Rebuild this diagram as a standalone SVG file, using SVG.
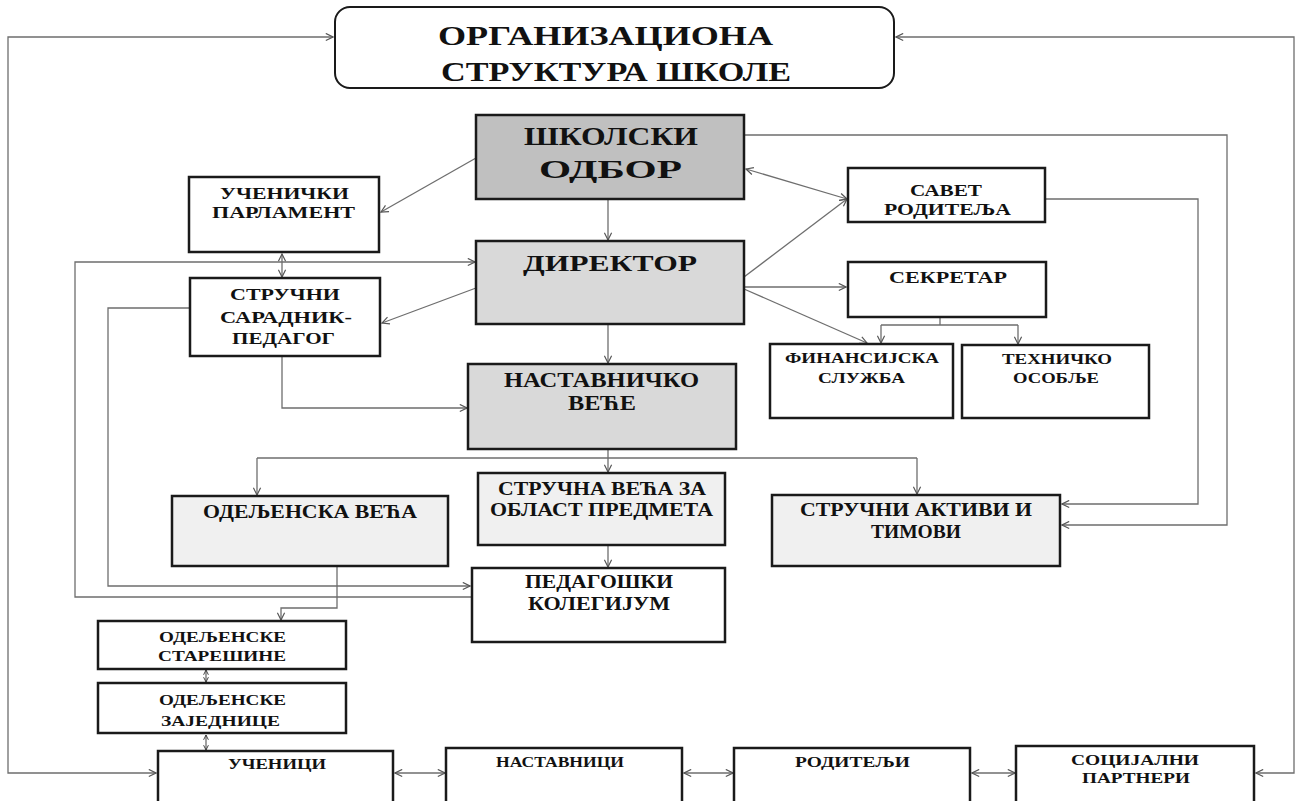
<svg xmlns="http://www.w3.org/2000/svg" width="1297" height="801" viewBox="0 0 1297 801">
<style>
.b{stroke:#1a1a1a;stroke-width:2.5;fill:#fff}
.d{fill:#c0c0c0}.m{fill:#d9d9d9}.l{fill:#f0f0f0}
.t{font-family:"Liberation Serif","Times New Roman",serif;font-weight:bold;fill:#111}
.c{fill:none;stroke:#6e6e6e;stroke-width:1.3}
.a{marker-end:url(#ar)}
.aa{marker-end:url(#ar);marker-start:url(#ar)}
.s{marker-end:url(#sm);marker-start:url(#sm)}
</style>
<defs>
<marker id="ar" viewBox="0 0 10 10" refX="9" refY="5" markerWidth="9" markerHeight="9" markerUnits="userSpaceOnUse" orient="auto-start-reverse">
<path d="M1,1 L9,5 L1,9" fill="none" stroke="#555" stroke-width="1.3"/>
</marker>
<marker id="sm" viewBox="0 0 10 10" refX="9" refY="5" markerWidth="6" markerHeight="6" markerUnits="userSpaceOnUse" orient="auto-start-reverse">
<path d="M1,1 L9,5 L1,9" fill="none" stroke="#333" stroke-width="1.5"/>
</marker>
</defs>
<rect width="1297" height="801" fill="#fff"/>
<g id="connectors">
<path class="c aa" d="M156,773 H8 V37 H333"/>
<path class="c aa" d="M1256,773 H1294 V37 H896"/>
<path class="c a" d="M476,158 L381,212"/>
<path class="c a" d="M608,199 V240"/>
<path class="c aa" d="M746,169 L847,199"/>
<path class="c a" d="M744,277 L847,199"/>
<path class="c a" d="M744,287 H846"/>
<path class="c a" d="M744,289 L867,343"/>
<path class="c" d="M940,317 V325 M881,325 H1018"/>
<path class="c a" d="M881,325 V343"/>
<path class="c a" d="M1018,325 V344"/>
<path class="c a" d="M744,135 H1227 V525 H1062"/>
<path class="c a" d="M1045,199 H1198 V504 H1062"/>
<path class="c a" d="M476,288 L382,323"/>
<path class="c aa" d="M282,254 V277"/>
<path class="c a" d="M472,597 H75 V262 H475"/>
<path class="c a" d="M190,308 H108 V586 H470"/>
<path class="c a" d="M282,356 V408 H467"/>
<path class="c a" d="M608,324 V363"/>
<path class="c a" d="M608,449 V472"/>
<path class="c" d="M257,458 H917"/>
<path class="c a" d="M257,458 V495"/>
<path class="c a" d="M917,458 V494"/>
<path class="c a" d="M608,545 V567"/>
<path class="c a" d="M337,566 V608 H281 V620"/>
<path class="c s" d="M206,670 V682"/>
<path class="c s" d="M206,735 V750"/>
<path class="c aa" d="M395,773 H445"/>
<path class="c aa" d="M684,773 H733"/>
<path class="c aa" d="M972,773 H1015"/>
</g>
<g id="title">
<rect x="335" y="7" width="559" height="81" rx="15" fill="#fff" stroke="#1a1a1a" stroke-width="2"/>
<text class="t" x="438" y="45" font-size="28" textLength="335" lengthAdjust="spacingAndGlyphs">ОРГАНИЗАЦИОНА</text>
<text class="t" x="441" y="81" font-size="28" textLength="350" lengthAdjust="spacingAndGlyphs">СТРУКТУРА ШКОЛЕ</text>
</g>
<g id="skolski-odbor">
<rect class="b d" x="476" y="115" width="268" height="84"/>
<text class="t" x="524" y="145" font-size="26" textLength="174" lengthAdjust="spacingAndGlyphs">ШКОЛСКИ</text>
<text class="t" x="539" y="178" font-size="26" textLength="143" lengthAdjust="spacingAndGlyphs">ОДБОР</text>
</g>
<g id="ucenicki-parlament">
<rect class="b" x="189" y="177" width="190" height="75"/>
<text class="t" x="220" y="199" font-size="16" textLength="129" lengthAdjust="spacingAndGlyphs">УЧЕНИЧКИ</text>
<text class="t" x="212" y="218" font-size="16" textLength="143" lengthAdjust="spacingAndGlyphs">ПАРЛАМЕНТ</text>
</g>
<g id="direktor">
<rect class="b m" x="476" y="241" width="268" height="83"/>
<text class="t" x="523" y="271" font-size="24" textLength="174" lengthAdjust="spacingAndGlyphs">ДИРЕКТОР</text>
</g>
<g id="savet-roditelja">
<rect class="b" x="848" y="168" width="197" height="54"/>
<text class="t" x="910" y="196" font-size="17" textLength="72" lengthAdjust="spacingAndGlyphs">САВЕТ</text>
<text class="t" x="884" y="215" font-size="17" textLength="127" lengthAdjust="spacingAndGlyphs">РОДИТЕЉА</text>
</g>
<g id="sekretar">
<rect class="b" x="848" y="262" width="198" height="55"/>
<text class="t" x="889" y="283" font-size="17" textLength="118" lengthAdjust="spacingAndGlyphs">СЕКРЕТАР</text>
</g>
<g id="strucni-saradnik">
<rect class="b" x="190" y="278" width="190" height="78"/>
<text class="t" x="230" y="300" font-size="17" textLength="110" lengthAdjust="spacingAndGlyphs">СТРУЧНИ</text>
<text class="t" x="220" y="323" font-size="17" textLength="132" lengthAdjust="spacingAndGlyphs">САРАДНИК-</text>
<text class="t" x="232" y="344" font-size="17" textLength="103" lengthAdjust="spacingAndGlyphs">ПЕДАГОГ</text>
</g>
<g id="finansijska-sluzba">
<rect class="b" x="770" y="344" width="183" height="74"/>
<text class="t" x="785" y="363" font-size="15" textLength="154" lengthAdjust="spacingAndGlyphs">ФИНАНСИЈСКА</text>
<text class="t" x="818" y="383" font-size="15" textLength="87" lengthAdjust="spacingAndGlyphs">СЛУЖБА</text>
</g>
<g id="tehnicko-osoblje">
<rect class="b" x="962" y="345" width="187" height="73"/>
<text class="t" x="1002" y="364" font-size="15" textLength="110" lengthAdjust="spacingAndGlyphs">ТЕХНИЧКО</text>
<text class="t" x="1013" y="383" font-size="15" textLength="86" lengthAdjust="spacingAndGlyphs">ОСОБЉЕ</text>
</g>
<g id="nastavnicko-vece">
<rect class="b m" x="468" y="364" width="268" height="85"/>
<text class="t" x="504" y="387" font-size="21" textLength="195" lengthAdjust="spacingAndGlyphs">НАСТАВНИЧКО</text>
<text class="t" x="568" y="410" font-size="21" textLength="68" lengthAdjust="spacingAndGlyphs">ВЕЋЕ</text>
</g>
<g id="odeljenska-veca">
<rect class="b l" x="172" y="496" width="276" height="70"/>
<text class="t" x="203" y="518" font-size="18" textLength="214" lengthAdjust="spacingAndGlyphs">ОДЕЉЕНСКА ВЕЋА</text>
</g>
<g id="strucna-veca">
<rect class="b l" x="478" y="473" width="247" height="72"/>
<text class="t" x="498" y="495" font-size="18" textLength="208" lengthAdjust="spacingAndGlyphs">СТРУЧНА ВЕЋА ЗА</text>
<text class="t" x="490" y="516" font-size="18" textLength="223" lengthAdjust="spacingAndGlyphs">ОБЛАСТ ПРЕДМЕТА</text>
</g>
<g id="strucni-aktivi">
<rect class="b l" x="772" y="495" width="288" height="71"/>
<text class="t" x="800" y="516" font-size="19" textLength="232" lengthAdjust="spacingAndGlyphs">СТРУЧНИ АКТИВИ И</text>
<text class="t" x="871" y="538" font-size="19" textLength="90" lengthAdjust="spacingAndGlyphs">ТИМОВИ</text>
</g>
<g id="pedagoski-kolegijum">
<rect class="b" x="472" y="568" width="253" height="74"/>
<text class="t" x="525" y="588" font-size="18" textLength="148" lengthAdjust="spacingAndGlyphs">ПЕДАГОШКИ</text>
<text class="t" x="528" y="610" font-size="18" textLength="142" lengthAdjust="spacingAndGlyphs">КОЛЕГИЈУМ</text>
</g>
<g id="odeljenske-staresine">
<rect class="b" x="98" y="621" width="248" height="48"/>
<text class="t" x="159" y="642" font-size="15" textLength="127" lengthAdjust="spacingAndGlyphs">ОДЕЉЕНСКЕ</text>
<text class="t" x="158" y="661" font-size="15" textLength="128" lengthAdjust="spacingAndGlyphs">СТАРЕШИНЕ</text>
</g>
<g id="odeljenske-zajednice">
<rect class="b" x="98" y="683" width="248" height="50"/>
<text class="t" x="159" y="705" font-size="15" textLength="127" lengthAdjust="spacingAndGlyphs">ОДЕЉЕНСКЕ</text>
<text class="t" x="161" y="726" font-size="15" textLength="119" lengthAdjust="spacingAndGlyphs">ЗАЈЕДНИЦЕ</text>
</g>
<g id="ucenici">
<rect class="b" x="158" y="751" width="235" height="56"/>
<text class="t" x="228" y="769" font-size="15" textLength="98" lengthAdjust="spacingAndGlyphs">УЧЕНИЦИ</text>
</g>
<g id="nastavnici">
<rect class="b" x="446" y="748" width="236" height="59"/>
<text class="t" x="496" y="767" font-size="15" textLength="128" lengthAdjust="spacingAndGlyphs">НАСТАВНИЦИ</text>
</g>
<g id="roditelji">
<rect class="b" x="734" y="748" width="236" height="59"/>
<text class="t" x="795" y="767" font-size="15" textLength="115" lengthAdjust="spacingAndGlyphs">РОДИТЕЉИ</text>
</g>
<g id="socijalni-partneri">
<rect class="b" x="1016" y="746" width="238" height="61"/>
<text class="t" x="1071" y="765" font-size="15" textLength="128" lengthAdjust="spacingAndGlyphs">СОЦИЈАЛНИ</text>
<text class="t" x="1082" y="783" font-size="15" textLength="108" lengthAdjust="spacingAndGlyphs">ПАРТНЕРИ</text>
</g>
</svg>
